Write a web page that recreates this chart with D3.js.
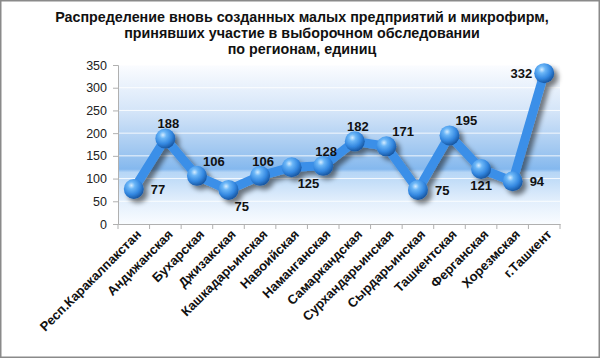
<!DOCTYPE html>
<html><head><meta charset="utf-8">
<script src="https://cdn.jsdelivr.net/npm/d3@7"></script>
<style>body{margin:0;background:#fff}svg{display:block;font-family:Arial,"Liberation Sans",sans-serif}</style>
</head><body>
<script>
const categories = ["Респ.Каракалпакстан","Андижанская","Бухарская","Джизакская","Кашкадарьинская","Навоийская","Наманганская","Самаркандская","Сурхандарьинская","Сырдарьинская","Ташкентская","Ферганская","Хорезмская","г.Ташкент"];
const values = [77,188,106,75,106,125,128,182,171,75,195,121,94,332];
const labelPlacement = ["r","t","tr","br","t","br","t","t","tr","r","tr","b","r","l"];
const yTicks = [0,50,100,150,200,250,300,350];
const titleLines = ["Распределение вновь созданных малых предприятий и микрофирм,","принявших участие в выборочном обследовании","по регионам, единиц"];

const W=600,H=358;
const m={left:118,right:40,top:65,bottom:134};
const svg=d3.select("body").append("svg").attr("width",W).attr("height",H);
const defs=svg.append("defs");
const bg=defs.append("linearGradient").attr("id","bg").attr("x1",0).attr("y1",0).attr("x2",0).attr("y2",1);
[[0,"#fbfcff"],[0.3,"#d3e4f8"],[0.55,"#9ec6f0"],[0.655,"#84b8ee"],[0.675,"#b6d6f6"],[0.85,"#e1eefc"],[1,"#f9fcff"]].forEach(s=>bg.append("stop").attr("offset",s[0]).attr("stop-color",s[1]));
const rg=defs.append("radialGradient").attr("id","ball").attr("cx","38%").attr("cy","32%").attr("r","70%");
[[0,"#d4ecff"],[0.25,"#6bb6f7"],[0.65,"#3387e0"],[1,"#17549e"]].forEach(s=>rg.append("stop").attr("offset",s[0]).attr("stop-color",s[1]));
const f=defs.append("filter").attr("id","sh").attr("x","-20%").attr("y","-20%").attr("width","140%").attr("height","140%");
f.append("feGaussianBlur").attr("in","SourceAlpha").attr("stdDeviation",2.5).attr("result","b");
f.append("feOffset").attr("in","b").attr("dx",4).attr("dy",4).attr("result","o");
f.append("feComponentTransfer").attr("in","o").attr("result","o2").append("feFuncA").attr("type","linear").attr("slope",0.5);
const fm=f.append("feMerge");fm.append("feMergeNode").attr("in","o2");fm.append("feMergeNode").attr("in","SourceGraphic");

svg.append("rect").attr("x",0.75).attr("y",0.75).attr("width",W-1.5).attr("height",H-1.5).attr("fill","#fff").attr("stroke","#8a8a8a").attr("stroke-width",1.5);

const x=d3.scaleBand().domain(categories).range([m.left,W-m.right]);
const y=d3.scaleLinear().domain([0,350]).range([H-m.bottom,m.top]);

svg.append("rect").attr("x",m.left).attr("y",m.top).attr("width",W-m.right-m.left).attr("height",H-m.bottom-m.top).attr("fill","url(#bg)");
svg.append("g").selectAll("line").data(yTicks.slice(1)).join("line")
 .attr("x1",m.left).attr("x2",W-m.right).attr("y1",d=>y(d)).attr("y2",d=>y(d)).attr("stroke","#ffffff").attr("stroke-opacity",0.85).attr("stroke-width",1);

const ya=svg.append("g").attr("transform",`translate(${m.left},0)`).call(d3.axisLeft(y).tickValues(yTicks).tickSize(5).tickPadding(6));
ya.select(".domain").attr("stroke","#b0b0b0");
ya.selectAll(".tick line").attr("stroke","#b0b0b0");
ya.selectAll("text").attr("font-size",12.5).attr("fill","#222").attr("font-family","Arial, Liberation Sans, sans-serif");

const xa=svg.append("g").attr("transform",`translate(0,${H-m.bottom})`).call(d3.axisBottom(x).tickSize(0).tickFormat(""));
xa.select(".domain").attr("stroke","#b0b0b0");
xa.selectAll(".tick").remove();
const bounds=categories.map(c=>x(c)).concat([x(categories[categories.length-1])+x.bandwidth()]);
xa.selectAll("line.b").data(bounds).join("line").attr("class","b").attr("x1",d=>d).attr("x2",d=>d).attr("y1",0).attr("y2",5).attr("stroke","#b0b0b0");

svg.append("g").selectAll("text").data(categories).join("text")
 .attr("transform",d=>`translate(${x(d)+x.bandwidth()/2+5},${H-m.bottom+8}) rotate(-45)`)
 .attr("text-anchor","end").attr("dy","0.35em").attr("font-size",13).attr("font-weight","bold").attr("fill","#111").text(d=>d);

const pts=categories.map((c,i)=>({c,v:values[i],p:labelPlacement[i]}));
const line=d3.line().x(d=>x(d.c)+x.bandwidth()/2).y(d=>y(d.v));
const g=svg.append("g").attr("filter","url(#sh)");
g.append("path").datum(pts).attr("d",line).attr("fill","none").attr("stroke","#3b8fe8").attr("stroke-width",9).attr("stroke-linejoin","round");
g.selectAll("circle").data(pts).join("circle").attr("cx",d=>x(d.c)+x.bandwidth()/2).attr("cy",d=>y(d.v)).attr("r",10).attr("fill","url(#ball)");

const off={r:[17,0,"start"],l:[-12,0,"end"],t:[3,-15,"middle"],tr:[6,-15,"start"],br:[6,16,"start"],b:[0,16,"middle"]};
svg.append("g").selectAll("text").data(pts).join("text")
 .attr("x",d=>x(d.c)+x.bandwidth()/2+off[d.p][0]).attr("y",d=>y(d.v)+off[d.p][1])
 .attr("dy","0.36em").attr("text-anchor",d=>off[d.p][2]).attr("font-size",13).attr("font-weight","bold").attr("fill","#111").text(d=>d.v);

svg.append("g").selectAll("text").data(titleLines).join("text").attr("x",302).attr("y",(d,i)=>22+i*16)
 .attr("text-anchor","middle").attr("font-size",14.3).attr("font-weight","bold").attr("fill","#111").text(d=>d);
</script>
</body></html>
